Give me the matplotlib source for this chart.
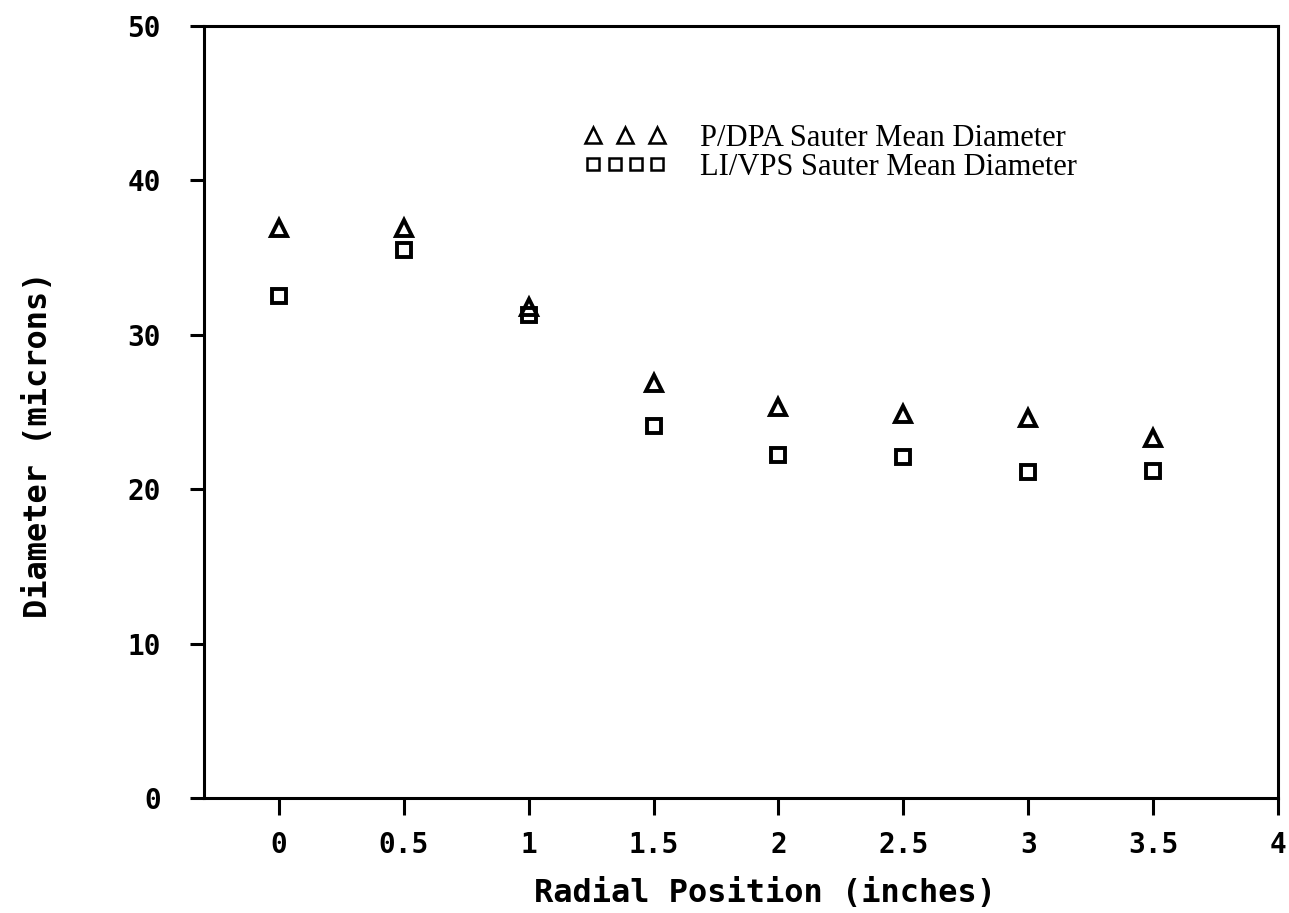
import matplotlib.pyplot as plt
from matplotlib.lines import Line2D
from matplotlib.legend_handler import HandlerLine2D

radial_pos = [0, 0.5, 1, 1.5, 2, 2.5, 3, 3.5]
pdpa_smd = [36.9, 36.9, 31.8, 26.9, 25.3, 24.9, 24.6, 23.3]
livps_smd = [32.5, 35.5, 31.3, 24.1, 22.2, 22.1, 21.1, 21.2]

x_ticks = [0, 0.5, 1, 1.5, 2, 2.5, 3, 3.5, 4]
x_tick_labels = ["0", "0.5", "1", "1.5", "2", "2.5", "3", "3.5", "4"]
y_ticks = [0, 10, 20, 30, 40, 50]
y_tick_labels = ["0", "10", "20", "30", "40", "50"]

labels = ["P/DPA Sauter Mean Diameter", "LI/VPS Sauter Mean Diameter"]

mono = "DejaVu Sans Mono"

fig = plt.figure(figsize=(12.89, 9.13), dpi=100)
ax = fig.add_axes([204 / 1289, 1 - 798 / 913, (1278 - 204) / 1289, (798 - 26) / 913])

ax.plot(radial_pos, pdpa_smd, ls="none", marker="^", ms=11, mfc="none",
        mec="black", mew=2.8)
ax.plot(radial_pos, livps_smd, ls="none", marker="s", ms=10, mfc="none",
        mec="black", mew=2.8)

ax.set_xlim(-0.3, 4)
ax.set_ylim(0, 50)
ax.set_xticks(x_ticks)
ax.set_xticklabels(x_tick_labels)
ax.set_yticks(y_ticks)
ax.set_yticklabels(y_tick_labels)

for s in ax.spines.values():
    s.set_linewidth(2.2)

ax.tick_params(axis="x", direction="out", length=12, width=2.2, pad=12)
ax.tick_params(axis="y", direction="out", length=10, width=2.2, pad=21)
for lab in ax.get_xticklabels() + ax.get_yticklabels():
    lab.set_fontfamily(mono)
    lab.set_fontweight("bold")
    lab.set_fontsize(20)

ax.set_xlabel("Radial Position (inches)", fontfamily=mono, fontweight="bold",
              fontsize=23)
ax.xaxis.set_label_coords((765 - 204) / 1074, (798 - 878) / 772)
ax.set_ylabel("Diameter (microns)", fontfamily=mono, fontweight="bold",
              fontsize=23)
ax.yaxis.set_label_coords((54 - 204) / 1074, (798 - 445) / 772)

# legend, typed-symbol style
tri = Line2D([], [], ls="none", marker="^", ms=11, mfc="none", mec="black", mew=1.8)
sq = Line2D([], [], ls="none", marker="s", ms=9, mfc="none", mec="black", mew=1.8)
ax.legend(handles=[tri, sq], labels=labels, loc="upper left",
          bbox_to_anchor=((584 - 204) / 1074, (798 - 124) / 772),
          frameon=False, borderpad=0, borderaxespad=0,
          handlelength=2.7, handletextpad=1.08, labelspacing=0.0,
          prop={"family": "Liberation Serif", "size": 22},
          handler_map={tri: HandlerLine2D(numpoints=3),
                       sq: HandlerLine2D(numpoints=4)})

fig.savefig("out.png", dpi=100)
